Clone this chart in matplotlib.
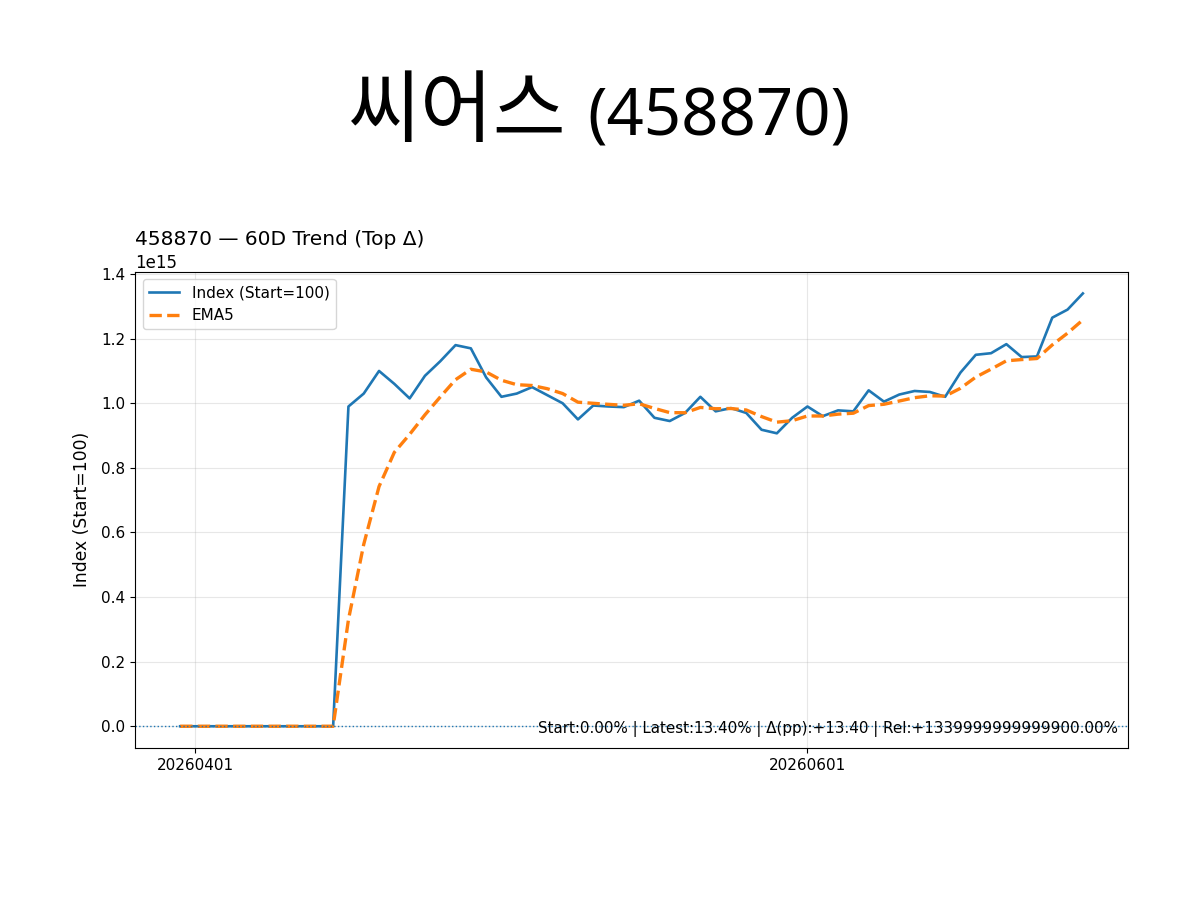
import numpy as np
import pandas as pd
import matplotlib.pyplot as plt

# index values (x1e15), one per trading day
index_vals = [0, 0, 0, 0, 0, 0, 0, 0, 0, 0, 0,
              0.99, 1.03, 1.10, 1.06, 1.015, 1.085, 1.13, 1.18, 1.17, 1.08,
              1.02, 1.03, 1.05, 1.025, 1.0, 0.95, 0.993, 0.99, 0.988, 1.008,
              0.955, 0.945, 0.97, 1.02, 0.975, 0.985, 0.97, 0.918, 0.907, 0.955,
              0.99, 0.96, 0.978, 0.975, 1.04, 1.005, 1.027, 1.038, 1.035, 1.02,
              1.095, 1.15, 1.155, 1.183, 1.143, 1.145, 1.265, 1.29, 1.34]
tick_pos = [1, 41]
tick_labels = ['20260401', '20260601']
note = 'Start:0.00% | Latest:13.40% | Δ(pp):+13.40 | Rel:+1339999999999900.00%'
name_kr = '씨어스'
code = '(458870)'

s = pd.Series(index_vals) * 1e15
ema5 = s.ewm(span=5, adjust=False).mean()
x = np.arange(len(s))

fig = plt.figure(figsize=(12, 9), dpi=100)
ax = fig.add_axes([0.1125, 0.169, 0.8275, 0.529])

ax.plot(x, s, color='#1f77b4', lw=1.9, label='Index (Start=100)')
ax.plot(x, ema5, color='#ff7f0e', lw=2.4, ls='--', label='EMA5')
ax.axhline(0, color='#1f77b4', lw=1, ls=':')

ax.set_xticks(tick_pos)
ax.set_xticklabels(tick_labels)
ax.grid(True, alpha=0.3)
ax.set_ylabel('Index (Start=100)', fontsize=12.3, labelpad=7)
ax.tick_params(labelsize=11)
ax.yaxis.get_offset_text().set_fontsize(12)
ax.set_title('458870 — 60D Trend (Top Δ)', loc='left', fontsize=14.5)
ax.legend(loc='upper left', fontsize=11)
ax.text(0.99, 0.022, note, transform=ax.transAxes, ha='right', va='bottom', fontsize=10.9)

# big title: hangul and code drawn with separate fonts
fig.text(567 / 1200, 1 - 136 / 900, name_kr, fontsize=57, ha='right', va='baseline',
         family=['Noto Sans CJK KR', 'DejaVu Sans'])
fig.text(587 / 1200, 1 - 136 / 900, code, fontsize=47, ha='left', va='baseline',
         family=['Noto Sans', 'DejaVu Sans'])

fig.savefig('out.png')
